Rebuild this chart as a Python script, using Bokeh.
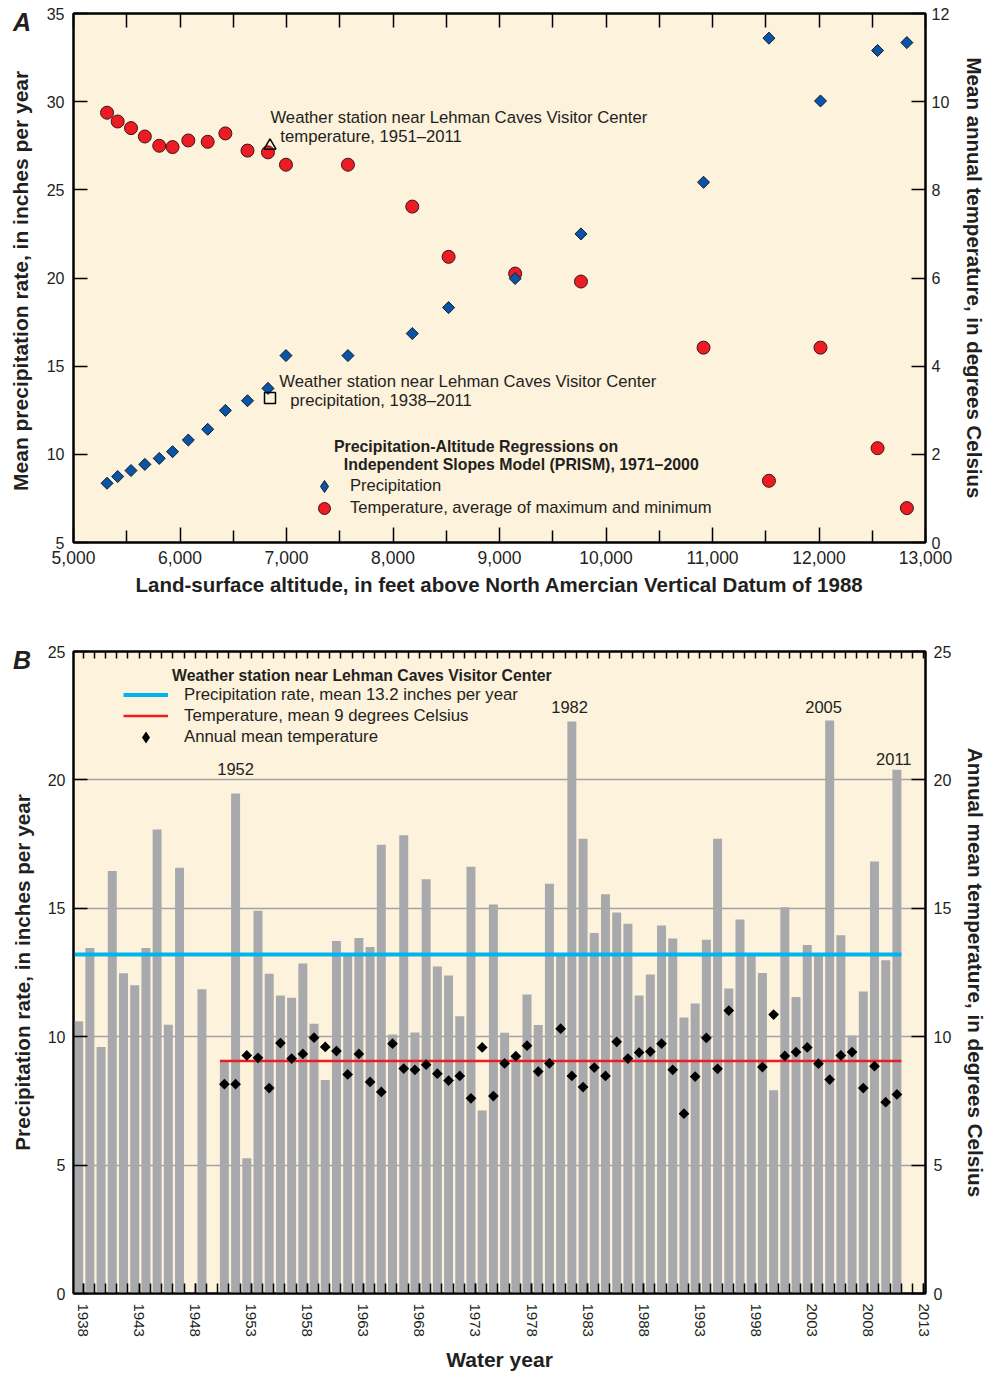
import math
import numpy as np
from bokeh.plotting import figure
from bokeh.models import (Range1d, LinearAxis, FixedTicker, Label, Legend, LegendItem,
                          ColumnDataSource, NumeralTickFormatter)
from bokeh.layouts import column
from bokeh.transform import dodge
from bokeh.embed import file_html
from bokeh.resources import INLINE

# ---------------- Data: panel A (PRISM regressions) ----------------
altitude_ft = [5315, 5415, 5540, 5670, 5805, 5930, 6078, 6260, 6426, 6634, 6826,
               6995, 7577, 8181, 8522, 9147, 9765, 10916, 11530, 12014, 12550, 12825]
prism_precip_in = [8.36, 8.74, 9.08, 9.43, 9.77, 10.15, 10.81, 11.42, 12.49, 13.04, 13.74,
                   15.6, 15.6, 16.85, 18.32, 19.97, 22.5, 25.43, 33.6, 30.04, 32.9, 33.35]
prism_temp_c = [9.75, 9.55, 9.40, 9.21, 9.0, 8.97, 9.12, 9.09, 9.28, 8.89, 8.85,
                8.57, 8.57, 7.62, 6.48, 6.1, 5.92, 4.42, 1.40, 4.42, 2.14, 0.78]
station_altitude_ft = [6845]
station_precip_mean = [13.2]
station_temp_mean = [9.0]

# ---------------- Data: panel B (annual station record) ----------------
water_years = list(range(1938, 2012))
annual_precip_in = [10.6, 13.45, 9.6, 16.45, 12.47, 12.0, 13.45, 18.07, 10.47, 16.58,
                    None, 11.85, None, 9.05, 19.47, 5.27, 14.9, 12.45, 11.6, 11.52,
                    12.85, 10.5, 8.31, 13.73, 13.15, 13.84, 13.49, 17.47, 10.09, 17.84,
                    10.16, 16.13, 12.73, 12.38, 10.8, 16.62, 7.13, 15.15, 10.15, 9.3,
                    11.64, 10.46, 15.96, 13.15, 22.27, 17.71, 14.04, 15.55, 14.84, 14.4,
                    11.6, 12.42, 14.33, 13.82, 10.75, 11.29, 13.78, 17.71, 11.88, 14.56,
                    13.15, 12.48, 7.91, 15.04, 11.55, 13.57, 13.15, 22.31, 13.95, 10.05,
                    11.76, 16.82, 12.98, 20.4]
temp_years = list(range(1951, 2012))
annual_temp_c = [8.15, 8.15, 9.27, 9.18, 8.0, 9.75, 9.15, 9.33, 9.96, 9.6,
                 9.44, 8.53, 9.33, 8.24, 7.85, 9.73, 8.76, 8.71, 8.91, 8.56,
                 8.29, 8.47, 7.6, 9.58, 7.69, 8.96, 9.24, 9.65, 8.64, 8.96,
                 10.31, 8.47, 8.04, 8.8, 8.47, 9.8, 9.15, 9.38, 9.42, 9.73,
                 8.71, 7.0, 8.45, 9.95, 8.75, 11.02, None, None, 8.82, 10.86,
                 9.25, 9.4, 9.58, 8.95, 8.33, 9.27, 9.4, 8.0, 8.85, 7.45, 7.75]
mean_precip = 13.2
mean_temp = 9.05
highlight_years = [1952, 1982, 2005, 2011]

# ---------------- Styles ----------------
FONT = "Liberation Sans"
BG = "#fdf2dc"
RED = "#ed1c24"
BLUE_D = "#0a54a3"
CYAN = "#00b5ef"
GRAY = "#a7a9ac"
INK = "#231f20"
NAN = [float("nan")]


def style_axis(ax, tick_in=14, label_size="16px", title_size="20.5px"):
    ax.major_tick_in = tick_in
    ax.major_tick_out = 0
    ax.minor_tick_in = tick_in
    ax.minor_tick_out = 0
    ax.axis_line_width = 2
    ax.axis_line_color = "black"
    ax.major_tick_line_width = 1.5
    ax.minor_tick_line_width = 1.5
    ax.major_label_text_font = FONT
    ax.major_label_text_font_size = label_size
    ax.major_label_text_color = INK
    ax.axis_label_text_font = FONT
    ax.axis_label_text_font_style = "bold"
    ax.axis_label_text_font_size = title_size
    ax.axis_label_text_color = INK


def lab(p, x, y, text, size="16.7px", bold=False, align="left"):
    p.add_layout(Label(x=x, y=y, text=text, text_font=FONT, text_font_size=size,
                       text_font_style="bold" if bold else "normal", text_align=align,
                       text_baseline="middle", text_color=INK))


def key(p, items, loc, gw, gh, standoff, size):
    p.add_layout(Legend(items=[LegendItem(label=t, renderers=[r]) for t, r in items],
                        location=loc, orientation="vertical",
                        background_fill_alpha=0, border_line_alpha=0, padding=0, margin=0,
                        spacing=0, glyph_width=gw, glyph_height=gh, label_height=gh,
                        label_standoff=standoff, label_text_font=FONT,
                        label_text_font_size=size, label_text_color=INK))


# ================= Panel A =================
pa = figure(width=990, height=620, x_range=Range1d(5000, 13000), y_range=Range1d(5, 35),
            output_backend="svg", toolbar_location=None,
            min_border_left=73, min_border_right=59, min_border_top=13, min_border_bottom=78,
            background_fill_color=BG, border_fill_color="white",
            outline_line_color="black", outline_line_width=2)
pa.extra_y_ranges = {"temp": Range1d(0, 12)}
pa.grid.visible = False

xa = pa.xaxis[0]
xa.ticker = FixedTicker(ticks=list(range(5000, 13001, 1000)),
                        minor_ticks=list(range(5500, 13000, 1000)))
xa.formatter = NumeralTickFormatter(format="0,0")
style_axis(xa, tick_in=15, label_size="17.5px")
xa.minor_tick_in = 12
xa.major_label_standoff = 8
xa.axis_label = "Land-surface altitude, in feet above North Amercian Vertical Datum of 1988"
xa.axis_label_standoff = 6

ya = pa.yaxis[0]
ya.ticker = FixedTicker(ticks=list(range(5, 36, 5)))
style_axis(ya, title_size="21px")
ya.major_label_standoff = 9
ya.axis_label = "Mean  precipitation rate, in inches per year"
ya.axis_label_standoff = 12

ra = LinearAxis(y_range_name="temp", ticker=FixedTicker(ticks=list(range(0, 13, 2))))
style_axis(ra)
ra.major_label_standoff = 6
ra.axis_label = "Mean annual temperature, in degrees Celsius"
ra.axis_label_standoff = 11
pa.add_layout(ra, "right")

ta = LinearAxis(ticker=FixedTicker(ticks=[], minor_ticks=list(range(5000, 13001, 500))))
style_axis(ta)
pa.add_layout(ta, "above")

src_a = ColumnDataSource(dict(alt=altitude_ft, precip=prism_precip_in, temp=prism_temp_c))
r_temp = pa.scatter("alt", "temp", source=src_a, y_range_name="temp", marker="circle",
                    size=13, fill_color=RED, line_color="#3a1515", line_width=1)
pa.scatter("alt", "precip", source=src_a, marker="square", angle=math.pi / 4,
           size=8.5, fill_color=BLUE_D, line_color="#0d1a33", line_width=1)
pa.scatter(station_altitude_ft, station_temp_mean, y_range_name="temp", marker="triangle",
           size=12, fill_color=None, line_color="black", line_width=1.5)
pa.scatter(station_altitude_ft, station_precip_mean, marker="square",
           size=11, fill_color=None, line_color="black", line_width=1.5)
# key-only glyph (nothing plotted): diamond shape used in the key
key_dia_a = pa.scatter(x=NAN, y=NAN, marker="diamond", fill_color=BLUE_D,
                       line_color="#0d1a33", line_width=1)

lab(pa, 6849, 29.13, "Weather station near Lehman Caves Visitor Center")
lab(pa, 6942, 28.05, "temperature, 1951\u20132011")
lab(pa, 6933, 14.12, "Weather station near Lehman Caves Visitor Center")
lab(pa, 7036, 13.04, "precipitation, 1938\u20132011")
lab(pa, 7445, 10.44, "Precipitation-Altitude Regressions on", size="15.9px", bold=True)
lab(pa, 7538, 9.42, "Independent Slopes Model (PRISM), 1971\u20132000", size="15.9px", bold=True)

key(pa, [("Precipitation", key_dia_a)], (236, 41), 30, 30, 11, "16.6px")
key(pa, [("Temperature, average of maximum and minimum", r_temp)], (236, 19), 30, 30, 11,
    "16.6px")

# ================= Panel B =================
pb = figure(width=990, height=753, x_range=Range1d(1937.14, 2013.15), y_range=Range1d(0, 25),
            output_backend="svg", toolbar_location=None,
            min_border_left=72, min_border_right=62, min_border_top=31, min_border_bottom=78,
            background_fill_color=BG, border_fill_color="white",
            outline_line_color="black", outline_line_width=2)
pb.xgrid.visible = False
pb.ygrid.ticker = FixedTicker(ticks=[5, 10, 15, 20])
pb.ygrid.grid_line_color = "#a3a3a3"
pb.ygrid.grid_line_width = 1.5

all_years = list(range(1938, 2014))
xb = pb.xaxis[0]
xb.ticker = FixedTicker(ticks=list(range(1938, 2014, 5)), minor_ticks=all_years)
style_axis(xb, tick_in=10, label_size="15px", title_size="21px")
xb.major_label_orientation = "vertical"
xb.major_label_standoff = 10
xb.axis_label = "Water year"
xb.axis_label_standoff = 8

yb = pb.yaxis[0]
yb.ticker = FixedTicker(ticks=list(range(0, 26, 5)))
style_axis(yb, title_size="20.7px")
yb.major_label_standoff = 8
yb.axis_label = "Precipitation rate, in inches per year"
yb.axis_label_standoff = 11

rb = LinearAxis(ticker=FixedTicker(ticks=list(range(0, 26, 5))))
style_axis(rb, title_size="20.7px")
rb.major_label_standoff = 8
rb.axis_label = "Annual mean temperature, in degrees Celsius"
rb.axis_label_standoff = 10
pb.add_layout(rb, "right")

tb = LinearAxis(ticker=FixedTicker(ticks=[], minor_ticks=all_years))
style_axis(tb, tick_in=7)
pb.add_layout(tb, "above")

src_p = ColumnDataSource(dict(year=water_years,
                              precip=np.array(annual_precip_in, dtype=float)))
src_t = ColumnDataSource(dict(year=temp_years,
                              temp=np.array(annual_temp_c, dtype=float)))

pb.vbar(x=dodge("year", -0.4), top="precip", width=0.8, source=src_p,
        fill_color=GRAY, line_color=None)
r_blue = pb.line([1937.14, water_years[-1]], [mean_precip, mean_precip],
                 line_color=CYAN, line_width=4)
r_red = pb.line([temp_years[0] - 0.8, temp_years[-1]], [mean_temp, mean_temp],
                line_color=RED, line_width=2.5)
pb.scatter(x=dodge("year", -0.4), y="temp", source=src_t, marker="square",
           angle=math.pi / 4, size=7.6, fill_color="black", line_color=None)
key_dia_b = pb.scatter(x=NAN, y=NAN, marker="diamond", fill_color="black", line_color=None)

# year call-outs above the tallest bars (small offsets so text sits clear of the bars)
callout_dx = [-0.4, -0.6, -0.94, -0.68]
callout_dy = [0.95, 0.56, 0.52, 0.42]
for yr, dx, dy in zip(highlight_years, callout_dx, callout_dy):
    v = annual_precip_in[water_years.index(yr)]
    lab(pb, yr + dx, v + dy, str(yr), size="16.5px", align="center")

lab(pb, 1945.93, 24.07, "Weather station near Lehman Caves Visitor Center", size="15.8px",
    bold=True)

key(pb, [("Precipitation rate, mean 13.2 inches per year", r_blue),
         ("Temperature, mean 9 degrees Celsius", r_red)], (50, 567), 45, 21, 16, "16.8px")
key(pb, [("Annual mean temperature", key_dia_b)], (50, 541), 45, 30, 16, "16.8px")

layout = column(pa, pb, spacing=0)

# panel letters (outside the plot frames, so placed as page text)
panel_letters = ["A", "B"]
letter_tops = [10, 648]
letters_html = "".join(
    f'<div style="position:absolute;left:13px;top:{t}px;font:italic bold 25px/25px '
    f"'Liberation Sans',sans-serif;color:{INK};z-index:5\">{s}</div>"
    for s, t in zip(panel_letters, letter_tops))

html = file_html(layout, INLINE, title="Precipitation and temperature")
html = html.replace("</body>", letters_html + "</body>")
open("out.html", "w").write(html)
